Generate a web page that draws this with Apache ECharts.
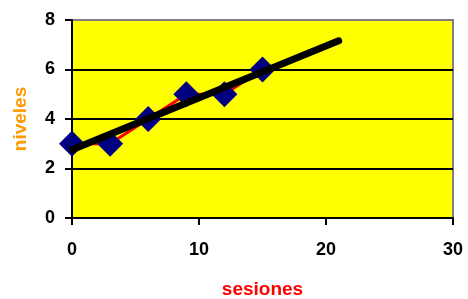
<!DOCTYPE html>
<html>
<head>
<meta charset="utf-8">
<script src="https://cdn.jsdelivr.net/npm/echarts@6/dist/echarts.min.js"></script>
<style>
  html, body { margin: 0; padding: 0; background: #fff; }
  #chart { width: 468px; height: 299px; }
</style>
</head>
<body>
<div id="chart"></div>
<script>
// sesiones / niveles
const sesiones = [0, 3, 6, 9, 12, 15]
const niveles = [3, 3, 4, 5, 5, 6]
// linear trend line (least squares), drawn from x=0 to x=21
const trendX = [0, 21]
const trendY = [2.76, 7.16]

const chart = echarts.init(document.getElementById('chart'))

const labelFont = { fontFamily: 'Liberation Sans, Arial, sans-serif', fontWeight: 'bold' }

chart.setOption({
  animation: false,
  grid: {
    left: 72,
    right: 15,
    top: 20,
    bottom: 81,
    outerBoundsMode: 'none',
    containLabel: false,
    show: true,
    backgroundColor: '#ffff00',
    borderColor: '#808080',
    borderWidth: 2
  },
  xAxis: {
    type: 'value',
    min: 0,
    max: 30,
    interval: 10,
    name: 'sesiones',
    nameLocation: 'middle',
    nameGap: 62,
    nameTextStyle: { ...labelFont, color: '#ff0000', fontSize: 19 },
    axisLine: { show: true, lineStyle: { color: '#000', width: 2 } },
    axisTick: { show: true, inside: false, length: 7, lineStyle: { color: '#000', width: 2 } },
    axisLabel: { ...labelFont, color: '#000', fontSize: 18, margin: 23 },
    splitLine: { show: false }
  },
  yAxis: {
    type: 'value',
    min: 0,
    max: 8,
    interval: 2,
    name: 'niveles',
    nameLocation: 'middle',
    nameGap: 42,
    nameRotate: 90,
    nameTextStyle: { ...labelFont, color: '#ff9900', fontSize: 19 },
    axisLine: { show: true, lineStyle: { color: '#000', width: 2 } },
    axisTick: { show: true, inside: false, length: 7, lineStyle: { color: '#000', width: 2 } },
    axisLabel: { ...labelFont, color: '#000', fontSize: 18, margin: 17 },
    splitLine: {
      show: true,
      lineStyle: { color: ['#000', '#000', '#000', '#000', '#808080'], width: 2 }
    }
  },
  series: [
    {
      name: 'niveles',
      type: 'line',
      data: sesiones.map((s, i) => [s, niveles[i]]),
      lineStyle: { color: '#ff0000', width: 3 },
      symbol: 'diamond',
      symbolSize: 26,
      itemStyle: { color: '#000080' },
      z: 2
    },
    {
      name: 'tendencia',
      type: 'line',
      data: trendX.map((x, i) => [x, trendY[i]]),
      showSymbol: false,
      symbol: 'none',
      lineStyle: { color: '#000', width: 7, cap: 'round' },
      z: 3
    }
  ]
})
</script>
</body>
</html>
